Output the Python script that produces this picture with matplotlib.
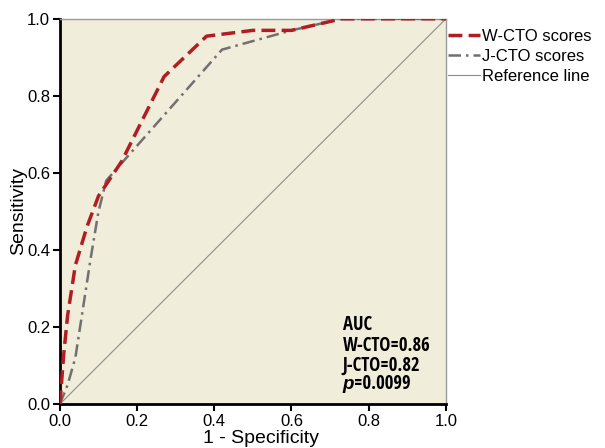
import matplotlib.pyplot as plt

plt.rcParams["font.family"] = ["Liberation Sans", "DejaVu Sans"]

# ROC points
w_fpr = [0.0, 0.01, 0.02, 0.04, 0.07, 0.10, 0.16, 0.27, 0.38, 0.50, 0.60, 0.73, 1.0]
w_tpr = [0.0, 0.13, 0.23, 0.36, 0.46, 0.54, 0.63, 0.85, 0.955, 0.97, 0.97, 1.0, 1.0]

j_fpr = [0.0, 0.02, 0.04, 0.06, 0.08, 0.10, 0.12, 0.42, 0.60, 0.73, 1.0]
j_tpr = [0.0, 0.05, 0.12, 0.25, 0.38, 0.50, 0.58, 0.92, 0.97, 1.0, 1.0]

ref = [0.0, 1.0]
ticks = [0.0, 0.2, 0.4, 0.6, 0.8, 1.0]
auc_lines = ["AUC", "W-CTO=0.86", "J-CTO=0.82"]

fig = plt.figure(figsize=(6.05, 4.48), dpi=100)
ax = fig.add_axes([0.099, 0.098, 0.638, 0.860])
ax.set_facecolor("#F1EDDB")

l1, = ax.plot(w_fpr, w_tpr, color="#B01E23", lw=2.5, ls=(0, (4, 1.8)), label="W-CTO scores", zorder=4)
l2, = ax.plot(j_fpr, j_tpr, color="#707070", lw=1.8, ls=(0, (5, 2, 1, 2)), label="J-CTO scores", zorder=3)
l3, = ax.plot(ref, ref, color="#8c8c8c", lw=0.8, label="Reference line", zorder=2)

ax.set_xlim(0, 1)
ax.set_ylim(0, 1)
ax.set_xticks(ticks)
ax.set_yticks(ticks)
ax.set_xticklabels([f"{t:.1f}" for t in ticks])
ax.set_yticklabels([f"{t:.1f}" for t in ticks])
ax.tick_params(direction="out", length=5, width=1.5, labelsize=12, colors="black", pad=2)

for s in ["left", "bottom"]:
    ax.spines[s].set_linewidth(2)
    ax.spines[s].set_color("black")
for s in ["top", "right"]:
    ax.spines[s].set_linewidth(1)
    ax.spines[s].set_color("#9a9a9a")

ax.set_xlabel("1 - Specificity", fontsize=14)
ax.set_ylabel("Sensitivity", fontsize=14, labelpad=0)
ax.xaxis.set_label_coords(0.52, -0.066)

# AUC text block, bold condensed, one line at a time
cond = ["Open Sans Condensed", "DejaVu Sans"]
ys = [0.204, 0.152, 0.100]
for txt, y in zip(auc_lines, ys):
    ax.text(0.733, y, txt, fontsize=13.5, fontweight="bold", family=cond,
            va="center", ha="left")
ptxt = ax.text(0.733, 0.052, "p", fontsize=13.5, fontweight="bold", fontstyle="italic",
               family=["Liberation Sans"], va="center", ha="left")
ax.annotate("=0.0099", xy=(1, 0.5), xycoords=ptxt, fontsize=13.5, fontweight="bold",
            family=cond, va="center", ha="left")

fig.legend(handles=[l1, l2, l3], loc="upper left", bbox_to_anchor=(0.741, 0.936),
           frameon=False, fontsize=12, handlelength=1.9, handletextpad=0.15,
           labelspacing=0.3, borderpad=0, borderaxespad=0)

fig.savefig("out.png", dpi=100)
